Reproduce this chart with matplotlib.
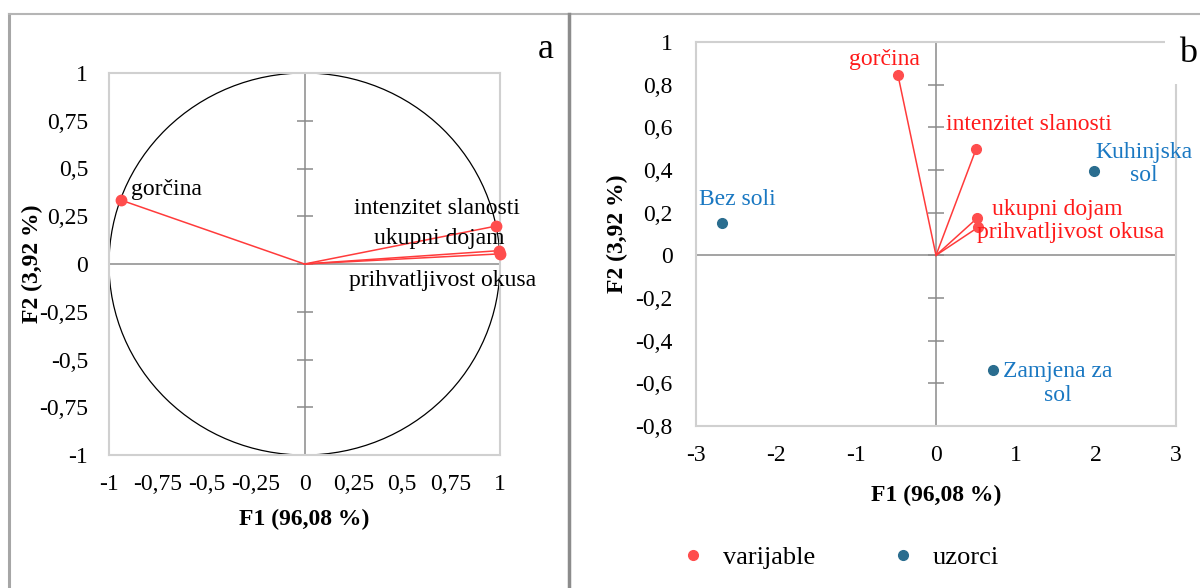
import matplotlib
matplotlib.use("Agg")
import matplotlib.pyplot as plt
from matplotlib.patches import Circle
from matplotlib.lines import Line2D

plt.rcParams['font.family'] = ['Liberation Serif', 'DejaVu Serif']

# ---- data ----
var_names = ['gorčina', 'intenzitet slanosti', 'ukupni dojam', 'prihvatljivost okusa']
a_f1 = [-0.94, 0.982, 0.997, 0.998]
a_f2 = [0.335, 0.199, 0.070, 0.053]

b_var_f1 = [-0.475, 0.50, 0.51, 0.525]
b_var_f2 = [0.844, 0.497, 0.173, 0.131]

sample_names = ['Bez soli', 'Kuhinjska\nsol', 'Zamjena za\nsol']
b_smp_f1 = [-2.67, 1.975, 0.71]
b_smp_f2 = [0.15, 0.394, -0.539]

a_ticks = [-1, -0.75, -0.5, -0.25, 0, 0.25, 0.5, 0.75, 1]
a_ticklabels = ['-1', '-0,75', '-0,5', '-0,25', '0', '0,25', '0,5', '0,75', '1']
b_xticks = [-3, -2, -1, 0, 1, 2, 3]
b_xticklabels = ['-3', '-2', '-1', '0', '1', '2', '3']
b_yticks = [-0.8, -0.6, -0.4, -0.2, 0, 0.2, 0.4, 0.6, 0.8, 1]
b_yticklabels = ['-0,8', '-0,6', '-0,4', '-0,2', '0', '0,2', '0,4', '0,6', '0,8', '1']

xlabel = 'F1 (96,08 %)'
ylabel = 'F2 (3,92 %)'

RED_PT = '#ff4d4d'
RED_LN = '#ff3b3b'
RED_TXT = '#ff1a1a'
BLUE_PT = '#2a6d8f'
BLUE_TXT = '#1a78c2'
BOX = '#d0d0d0'
AXL = '#8a8a8a'
FS = 17

W, H = 1200, 588
fig = plt.figure(figsize=(12, 5.88), dpi=100)

def fx(px):
    return px / W

def fy(py):
    return 1 - py / H

# panel borders
fig.add_artist(Line2D([fx(9), fx(9)], [fy(14), 0], color='#a6a6a6', lw=2.2))
fig.add_artist(Line2D([fx(9), fx(1200)], [fy(13.5), fy(13.5)], color='#b5b5b5', lw=1.5))
fig.add_artist(Line2D([fx(569), fx(569)], [fy(14), 0], color='#8c8c8c', lw=2.5))


def style_axes(ax, yticks_vals):
    for s in ax.spines.values():
        s.set_color(BOX)
        s.set_linewidth(1.5)
    ax.axvline(0, color=AXL, lw=1.1, zorder=1)
    ax.axhline(0, color=AXL, lw=1.1, zorder=1)
    ax.plot([0] * len(yticks_vals), yticks_vals, ls='none', marker='_',
            markersize=11, markeredgewidth=1.1, color=AXL, zorder=1, clip_on=False)
    ax.tick_params(length=0, labelsize=FS)


# ---- panel a ----
axa = fig.add_axes([fx(109), fy(455), fx(500) - fx(109), fy(73) - fy(455)])
axa.set_xlim(-1, 1)
axa.set_ylim(-1, 1)
style_axes(axa, a_ticks)
axa.add_patch(Circle((0, 0), 1, fill=False, ec='black', lw=0.9, zorder=2))
for x, y in zip(a_f1, a_f2):
    axa.plot([0, x], [0, y], color=RED_LN, lw=1.1, zorder=3)
axa.plot(a_f1, a_f2, ls='none', marker='o', ms=7.5, color=RED_PT, zorder=4, clip_on=False)
axa.set_xticks(a_ticks)
axa.set_xticklabels(a_ticklabels)
axa.set_yticks(a_ticks)
axa.set_yticklabels(a_ticklabels)
axa.tick_params(axis='x', pad=14)
axa.tick_params(axis='y', pad=15)
axa.set_xlabel(xlabel, fontsize=FS, fontweight='bold', labelpad=10)
axa.set_ylabel(ylabel, fontsize=FS, fontweight='bold', labelpad=-3)

a_lab_pos = [(-0.885, 0.39, 'left'), (0.675, 0.288, 'center'),
             (0.691, 0.131, 'center'), (0.707, -0.084, 'center')]
for name, (lx, ly, ha) in zip(var_names, a_lab_pos):
    axa.text(lx, ly, name, fontsize=FS, ha=ha, va='center', color='black', zorder=5)

fig.text(fx(546), fy(50), 'a', fontsize=26, ha='center', va='center')

# ---- panel b ----
axb = fig.add_axes([fx(696), fy(426), fx(1176) - fx(696), fy(42) - fy(426)])
axb.set_xlim(-3, 3)
axb.set_ylim(-0.8, 1)
style_axes(axb, b_yticks)
for x, y in zip(b_var_f1, b_var_f2):
    axb.plot([0, x], [0, y], color=RED_LN, lw=1.1, zorder=3)
axb.plot(b_var_f1, b_var_f2, ls='none', marker='o', ms=7, color=RED_PT, zorder=4)
axb.plot(b_smp_f1, b_smp_f2, ls='none', marker='o', ms=7, color=BLUE_PT, zorder=4)
axb.set_xticks(b_xticks)
axb.set_xticklabels(b_xticklabels)
axb.set_yticks(b_yticks)
axb.set_yticklabels(b_yticklabels)
axb.tick_params(axis='x', pad=14)
axb.tick_params(axis='y', pad=17)
axb.set_xlabel(xlabel, fontsize=FS, fontweight='bold', labelpad=13)
axb.set_ylabel(ylabel, fontsize=FS, fontweight='bold', labelpad=5)

b_var_lab = [(-0.64, 0.92, 'center'), (0.125, 0.614, 'left'),
             (0.70, 0.216, 'left'), (0.51, 0.108, 'left')]
for name, (lx, ly, ha) in zip(var_names, b_var_lab):
    axb.text(lx, ly, name, fontsize=FS, ha=ha, va='center', color=RED_TXT, zorder=5)

b_smp_lab = [(-2.96, 0.262, 'left'), (2.6, 0.427, 'center'), (1.52, -0.60, 'center')]
for name, (lx, ly, ha) in zip(sample_names, b_smp_lab):
    axb.text(lx, ly, name, fontsize=FS, ha=ha, va='center', color=BLUE_TXT,
             multialignment='center', linespacing=1.15, zorder=5)

fig.text(fx(1188), fy(53), 'b', fontsize=26, ha='center', va='center',
         bbox=dict(boxstyle='square,pad=0.4', fc='white', ec='none'), zorder=10)

# legend
handles = [Line2D([], [], ls='none', marker='o', ms=7, color=RED_PT),
           Line2D([], [], ls='none', marker='o', ms=7, color=BLUE_PT)]
fig.legend(handles, ['varijable', 'uzorci'], loc='center left',
           bbox_to_anchor=(fx(685), fy(557)), ncol=2, frameon=False,
           fontsize=19, handletextpad=0.85, columnspacing=3.0, handlelength=0.6,
           borderpad=0, borderaxespad=0)

fig.savefig('out.png', dpi=100)
